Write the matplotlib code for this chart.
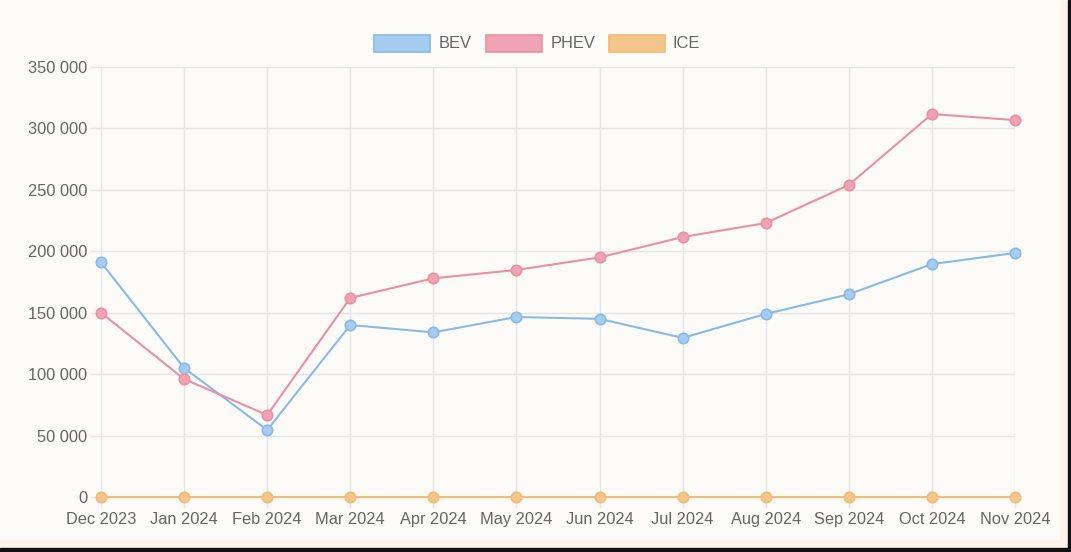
import matplotlib
matplotlib.use("Agg")
import matplotlib.pyplot as plt
from matplotlib.patches import Rectangle
from matplotlib.ticker import FuncFormatter

months = ["Dec 2023", "Jan 2024", "Feb 2024", "Mar 2024", "Apr 2024", "May 2024",
          "Jun 2024", "Jul 2024", "Aug 2024", "Sep 2024", "Oct 2024", "Nov 2024"]
bev = [191000, 105000, 54500, 140000, 134000, 146500, 145000, 129500, 149000, 165000, 189600, 198600]
phev = [150000, 96000, 66700, 162000, 178000, 184800, 195000, 211600, 223000, 254000, 311700, 306800]
ice = [0, 0, 0, 0, 0, 0, 0, 0, 0, 0, 0, 0]
series_names = ["BEV", "PHEV", "ICE"]
yticks = [0, 50000, 100000, 150000, 200000, 250000, 300000, 350000]

plt.rcParams['font.family'] = ['Liberation Sans', 'DejaVu Sans']

W, H = 1071, 552
fig = plt.figure(figsize=(W / 100, H / 100), dpi=100)
fig.patch.set_facecolor('#fdfbf8')

# outer frame strips
fig.patches.append(Rectangle((0, 0), 1, 12 / H, transform=fig.transFigure, color='#fdf3ea', zorder=0))
fig.patches.append(Rectangle((1 - 11 / W, 0), 11 / W, 1, transform=fig.transFigure, color='#fdf3ea', zorder=0))
fig.patches.append(Rectangle((0, 0), 1, 4 / H, transform=fig.transFigure, color='#111111', zorder=1))
fig.patches.append(Rectangle((1 - 3 / W, 0), 3 / W, 1, transform=fig.transFigure, color='#111111', zorder=1))

left, right = 101 / W, 1015 / W
bottom, top = (H - 497) / H, (H - 67) / H
ax = fig.add_axes([left, bottom, right - left, top - bottom])
ax.set_facecolor('none')

x = list(range(len(months)))
styles = {
    "BEV": dict(line='#86bbe8', face='#a6cdf0', data=bev),
    "PHEV": dict(line='#eb8fa3', face='#f0a3b4', data=phev),
    "ICE": dict(line='#f2bb78', face='#f5c68c', data=ice),
}
for name in series_names:
    s = styles[name]
    ax.plot(x, s['data'], color=s['line'], lw=1.5, marker='o', ms=7.5,
            mfc=s['face'], mec=s['line'], mew=1.2, zorder=3, clip_on=False)

ax.set_xlim(0, len(months) - 1)
ax.set_ylim(0, 350000)
ax.set_yticks(yticks)
ax.yaxis.set_major_formatter(FuncFormatter(lambda v, p: f"{int(v):,}".replace(",", " ")))
ax.set_xticks(x)
ax.set_xticklabels(months)

grid_c = '#e6e6e6'
ax.grid(True, color=grid_c, lw=1)
for sp in ax.spines.values():
    sp.set_visible(False)
ax.tick_params(axis='both', colors=grid_c, labelcolor='#666666', labelsize=11.8, length=8, width=1)
ax.tick_params(axis='y', pad=2)
ax.tick_params(axis='x', pad=3)
ax.set_axisbelow(True)

# legend drawn manually
leg_y = (H - 43) / H
items = [("BEV", 374, 439), ("PHEV", 486, 551), ("ICE", 609, 673)]
for name, bx, tx in items:
    s = styles[name]
    fig.patches.append(Rectangle((bx / W, (H - 52) / H), 56 / W, 17 / H, transform=fig.transFigure,
                                 facecolor=s['face'], edgecolor=s['line'], lw=1.2, zorder=2))
    fig.text(tx / W, leg_y, name, ha='left', va='center', fontsize=11.8, color='#666666')

fig.savefig("out.png", dpi=100, facecolor=fig.get_facecolor())
